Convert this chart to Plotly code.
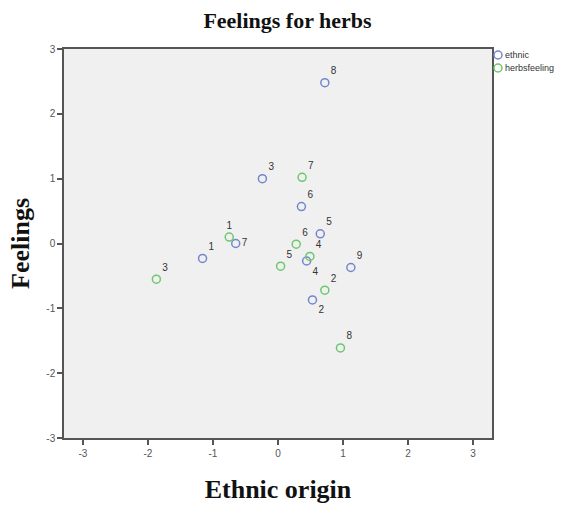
import plotly.graph_objects as go

# Data
ethnic_x = [-1.16, 0.53, -0.24, 0.44, 0.65, 0.36, -0.65, 0.72, 1.12]
ethnic_y = [-0.23, -0.87, 1.00, -0.27, 0.15, 0.57, 0.00, 2.48, -0.37]
ethnic_lbl = ["1", "2", "3", "4", "5", "6", "7", "8", "9"]
ethnic_pos = ["top right", "bottom right", "top right", "bottom right", "top right",
              "top right", "middle right", "top right", "top right"]

herbs_x = [-0.75, 0.72, -1.87, 0.49, 0.04, 0.28, 0.37, 0.96]
herbs_y = [0.10, -0.72, -0.55, -0.20, -0.35, -0.01, 1.02, -1.61]
herbs_lbl = ["1", "2", "3", "4", "5", "6", "7", "8"]
herbs_pos = ["top center", "top right", "top right", "top right", "top right",
             "top right", "top right", "top right"]

series_names = ["ethnic", "herbsfeeling"]
ticks = [-3, -2, -1, 0, 1, 2, 3]

blue = "#7486cc"
green = "#6cc86c"
colors = [blue, green]

fig = go.Figure()
fig.add_trace(go.Scatter(
    x=ethnic_x, y=ethnic_y, mode="markers+text", name=series_names[0],
    text=ethnic_lbl, textposition=ethnic_pos,
    textfont=dict(family="Arial, Liberation Sans", size=10, color="#333333"),
    marker=dict(symbol="circle-open", size=8, color=blue, line=dict(width=1.5, color=blue)),
))
fig.add_trace(go.Scatter(
    x=herbs_x, y=herbs_y, mode="markers+text", name=series_names[1],
    text=herbs_lbl, textposition=herbs_pos,
    textfont=dict(family="Arial, Liberation Sans", size=10, color="#333333"),
    marker=dict(symbol="circle-open", size=8, color=green, line=dict(width=1.5, color=green)),
))

axis_common = dict(
    tickmode="array", tickvals=ticks, ticktext=[str(t) for t in ticks],
    ticks="outside", ticklen=5, tickcolor="#555555", tickwidth=1.5,
    tickfont=dict(family="Arial, Liberation Sans", size=10, color="#555555"),
    showgrid=False, zeroline=False, showline=True, linecolor="#555555", linewidth=1.5,
    mirror=True,
)

W, H = 565, 506
ml, mr, mt, mb = 64, 73, 49, 68
serif = "Liberation Serif, Times New Roman, serif"

fig.update_layout(
    width=W, height=H,
    margin=dict(l=ml, r=mr, t=mt, b=mb, autoexpand=False),
    paper_bgcolor="white", plot_bgcolor="#f0f0f0",
    title=dict(text="<b>Feelings for herbs</b>", x=287.5 / W, xanchor="center",
               y=1 - 20 / H, yanchor="middle",
               font=dict(family=serif, size=22, color="#111111")),
    xaxis=dict(range=[-3.29, 3.29], **axis_common,
               title=dict(text="<b>Ethnic origin</b>", standoff=22,
                          font=dict(family=serif, size=26, color="#111111"))),
    yaxis=dict(range=[-3, 3], **axis_common,
               title=dict(text="<b>Feelings</b>", standoff=9,
                          font=dict(family=serif, size=26, color="#111111"))),
    showlegend=False,
)

# Manual legend just outside the plot's right edge (SPSS style)
pw = W - ml - mr
ph = H - mt - mb
def px_to_paper_x(px):
    return (px - ml) / pw
def px_to_paper_y(py):
    return (H - mb - py) / ph

for i, (name, col) in enumerate(zip(series_names, colors)):
    cy = 55 + i * 13
    cx = 498
    r = 4
    fig.add_shape(type="circle", xref="paper", yref="paper",
                  x0=px_to_paper_x(cx - r), x1=px_to_paper_x(cx + r),
                  y0=px_to_paper_y(cy + r), y1=px_to_paper_y(cy - r),
                  line=dict(color=col, width=1.5), fillcolor="rgba(0,0,0,0)")
    fig.add_annotation(xref="paper", yref="paper", x=px_to_paper_x(503), y=px_to_paper_y(cy),
                       xanchor="left", yanchor="middle", text=name, showarrow=False,
                       font=dict(family="Arial, Liberation Sans", size=9, color="#333333"))

fig.write_html("out.html")
